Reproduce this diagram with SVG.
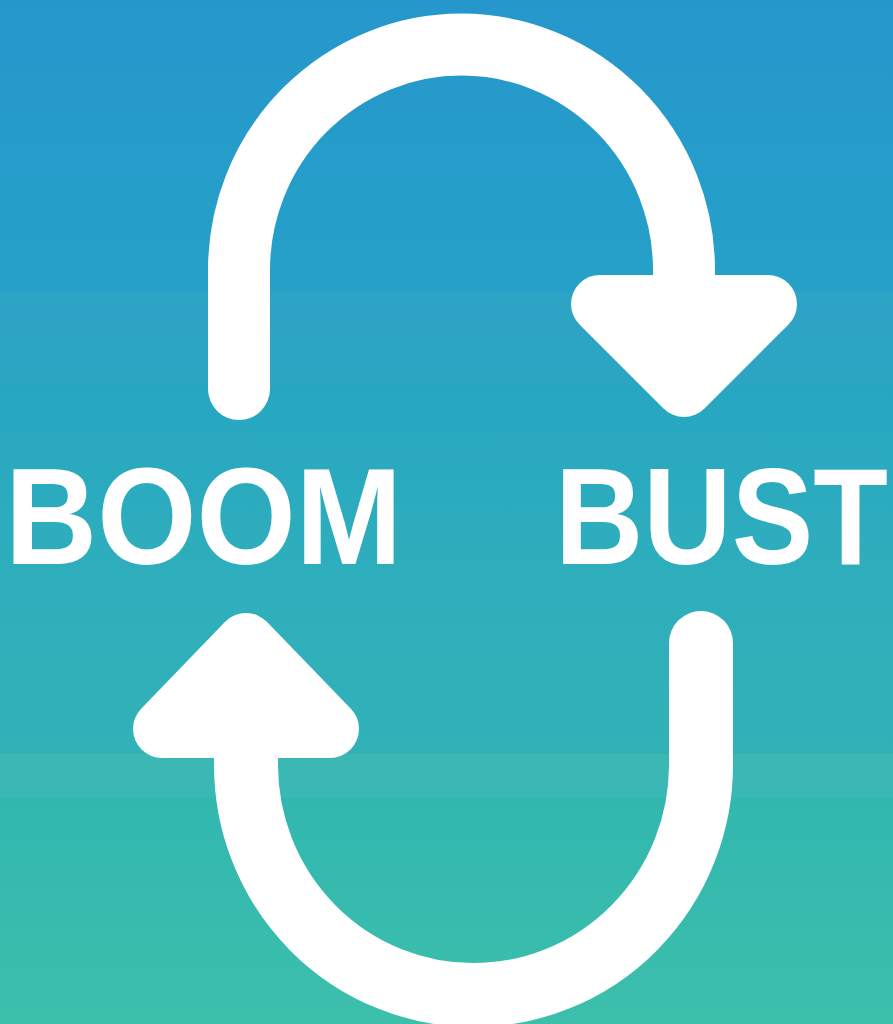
<svg xmlns="http://www.w3.org/2000/svg" width="893" height="1024" viewBox="0 0 893 1024">
  <defs>
    <linearGradient id="bg" x1="0" y1="0" x2="0" y2="1024" gradientUnits="userSpaceOnUse">
      <stop offset="0" stop-color="#2697cc"/>
      <stop offset="0.283" stop-color="#25a1c8"/>
      <stop offset="0.285" stop-color="#2da3c5"/>
      <stop offset="0.375" stop-color="#2ca5c3"/>
      <stop offset="0.377" stop-color="#27a6c2"/>
      <stop offset="0.55" stop-color="#2eaebc"/>
      <stop offset="0.733" stop-color="#31b2b7"/>
      <stop offset="0.735" stop-color="#2eb3b3"/>
      <stop offset="0.737" stop-color="#3cb7b4"/>
      <stop offset="0.778" stop-color="#3ab8b3"/>
      <stop offset="0.780" stop-color="#32b7b0"/>
      <stop offset="1" stop-color="#3cbfab"/>
    </linearGradient>
  </defs>
  <style>
    .shaft { fill: none; stroke: #ffffff; stroke-linecap: round; stroke-linejoin: round; }
    .head { fill: #ffffff; stroke: #ffffff; stroke-width: 58; stroke-linejoin: round; }
    .label { fill: #ffffff; font-family: "Liberation Sans", Arial, sans-serif; font-weight: bold; font-size: 137px; }
  </style>
  <rect x="0" y="0" width="893" height="1024" fill="url(#bg)"/>
  <g id="connectors">
    <g id="arrow-boom-to-bust">
      <path class="shaft" stroke-width="62" d="M239,389 L239,270 A222.5,225.5 0 0 1 684,270 L684,310"/>
      <polygon class="head" points="600,304 768,304 684,388"/>
    </g>
    <g id="arrow-bust-to-boom">
      <path class="shaft" stroke-width="64" d="M701,643 L701,765 A227.5,230 0 0 1 246,765 L246,720"/>
      <polygon class="head" points="162,729 330,729 246,642"/>
    </g>
  </g>
  <g id="node-boom">
    <text class="label" x="5" y="564" textLength="397" lengthAdjust="spacingAndGlyphs">BOOM</text>
  </g>
  <g id="node-bust">
    <text class="label" x="555" y="564" textLength="333" lengthAdjust="spacingAndGlyphs">BUST</text>
  </g>
</svg>
